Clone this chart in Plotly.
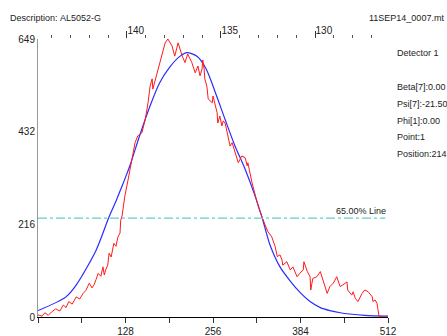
import plotly.graph_objects as go

# ---- data ----
red_x = [0, 6, 10, 15, 20, 26, 32, 37, 41, 45, 50, 56, 61, 66, 70, 75, 79, 82, 85, 88,
         92, 95, 97, 99, 102, 104, 107, 111, 114, 117, 120, 121, 123, 126, 127, 132, 138,
         142, 146, 152, 157, 161, 164, 167, 168, 174, 178, 181, 186, 190, 196, 200, 205,
         211, 215, 219, 225, 230, 234, 237, 240, 241, 243, 244, 247, 249, 255, 256, 259,
         262, 263, 266, 269, 271, 274, 278, 281, 284, 288, 293, 298, 303, 306, 307, 313,
         317, 320, 322, 328, 332, 336, 342, 347, 350, 354, 357, 358, 364, 369, 373, 379,
         383, 388, 389, 394, 398, 399, 402, 408, 413, 417, 423, 427, 432, 437, 442, 446,
         449, 452, 453, 459, 461, 464, 468, 474, 478, 483, 489, 490, 493, 496, 497, 499,
         505, 512]
red_y = [5, 2, 10, 4, 12, 19, 14, 28, 22, 36, 30, 47, 42, 55, 62, 79, 68, 75, 88, 102,
         95, 117, 98, 110, 121, 149, 140, 172, 165, 187, 196, 226, 236, 281, 282, 322, 369,
         407, 423, 430, 462, 500, 539, 556, 532, 570, 594, 609, 640, 649, 633, 609, 640,
         609, 594, 614, 594, 570, 586, 563, 579, 600, 579, 556, 539, 509, 500, 516, 493,
         477, 453, 469, 446, 458, 451, 423, 399, 407, 384, 360, 376, 372, 353, 360, 314,
         290, 266, 259, 232, 215, 200, 187, 164, 141, 145, 133, 121, 129, 110, 117, 94,
         102, 110, 129, 106, 94, 63, 90, 94, 106, 86, 55, 71, 79, 94, 71, 75,
         79, 82, 63, 51, 59, 44, 36, 55, 63, 59, 47, 36, 40, 32, 20, 1,
         0, 0]

fit_x = [0, 41, 56, 85, 104, 114, 120, 129, 135, 149, 164, 178, 193, 208, 218, 233,
         246, 259, 274, 288, 303, 317, 328, 339, 354, 369, 383, 398, 413, 427, 442, 456,
         478, 512]
fit_y = [15, 47, 75, 156, 234, 270, 294, 330, 356, 425, 493, 547, 584, 609, 617, 608,
         579, 526, 460, 400, 345, 285, 231, 170, 117, 84, 58, 36, 22, 15, 10, 7,
         4, 2]

x_tickvals = [0, 64, 128, 192, 256, 320, 384, 448, 512]
x_ticktext = ["", "", "128", "", "256", "", "384", "", "512"]
y_tickvals = [0, 216, 432, 649]
y_ticktext = ["0", "216", "432", "649"]
top_tickvals = [130, 135, 140]
top_range = [144.73, 126.12]
line_level = 231
line_label = "65.00% Line"

description = "Description:"
sample = "AL5052-G"
filename = "11SEP14_0007.mt"
info_lines = ["Beta[7]:0.00", "Psi[7]:-21.50", "Phi[1]:0.00", "Point:1", "Position:214.48"]
detector = "Detector 1"

FONT = "Liberation Sans, Arial, sans-serif"
FS = 9
TICK_FS = 10
TXT = "#222222"

fig = go.Figure()
fig.add_trace(go.Scatter(x=fit_x, y=fit_y, mode="lines",
                         line=dict(color="#2b2bff", width=1.2, shape="spline", smoothing=0.8)))
fig.add_trace(go.Scatter(x=red_x, y=red_y, mode="lines", line=dict(color="#ff1a1a", width=1)))
# invisible trace to activate top axis
fig.add_trace(go.Scatter(x=top_range, y=[0, 0], xaxis="x2", mode="lines", line=dict(width=0),
                         hoverinfo="skip", showlegend=False))

fig.add_shape(type="line", x0=0, x1=508, y0=line_level, y1=line_level, xref="x", yref="y",
              line=dict(color="#66cccc", width=1.3, dash="dashdot"))
fig.add_annotation(x=512, y=line_level, xref="x", yref="y", text=line_label, showarrow=False,
                   xanchor="right", yanchor="bottom", yshift=0, font=dict(family=FONT, size=FS, color=TXT))


def px_x(px):
    return (px - 38) / 350.0


def px_y(py):
    return (317 - py) / 278.0


def label(px, py, text, anchor="left"):
    fig.add_annotation(x=px_x(px), y=px_y(py), xref="paper", yref="paper", text=text, showarrow=False,
                       xanchor=anchor, yanchor="middle", font=dict(family=FONT, size=FS, color=TXT))


label(8, 18, description)
label(58, 18, sample)
label(446, 18, filename, anchor="right")
label(395, 53, detector)
for i, t in enumerate(info_lines):
    label(395, 87 + i * 16.8, t)

fig.update_layout(
    width=447, height=336,
    margin=dict(l=38, r=59, t=39, b=19, autoexpand=False),
    paper_bgcolor="white", plot_bgcolor="white",
    showlegend=False,
    font=dict(family=FONT, size=FS, color=TXT),
    xaxis=dict(range=[0, 512], tickvals=x_tickvals, ticktext=x_ticktext, showgrid=False, zeroline=False,
               showline=True, linecolor="black", linewidth=1, ticks="outside", ticklen=5, tickcolor="#333",
               tickfont=dict(family=FONT, size=TICK_FS), automargin=False),
    yaxis=dict(range=[0, 649], tickvals=y_tickvals, ticktext=y_ticktext, showgrid=False, zeroline=False,
               showline=True, linecolor="#999", linewidth=1, ticks="", tickfont=dict(family=FONT, size=TICK_FS),
               automargin=False),
    xaxis2=dict(overlaying="x", side="top", range=top_range, tickvals=top_tickvals,
                ticktext=[str(v) for v in top_tickvals], showgrid=False, zeroline=False, showline=False,
                ticks="outside", ticklen=7, tickcolor="#333", ticklabelposition="outside right",
                minor=dict(dtick=1, ticklen=3, tickcolor="#555", ticks="outside", showgrid=False),
                tickfont=dict(family=FONT, size=TICK_FS), automargin=False),
)

fig.write_html("out.html", config={"displayModeBar": False},
               post_script="document.body.style.margin='0px';document.body.style.overflow='hidden';")
